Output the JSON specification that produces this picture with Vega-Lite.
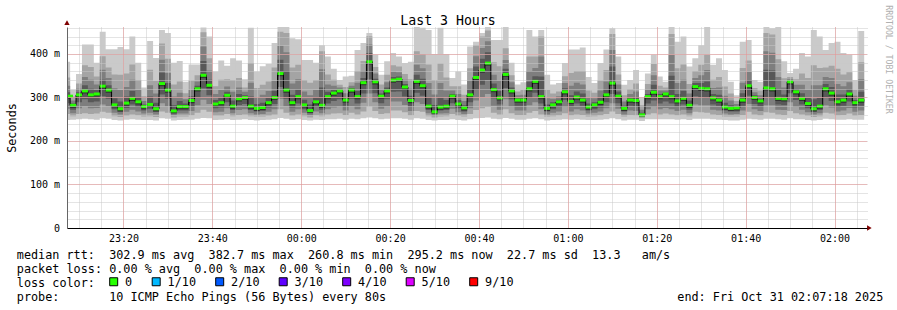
{
"$schema":"https://vega.github.io/schema/vega-lite/v6.json",
"width":800,"height":201,
"autosize":{"type":"none"},
"padding":{"left":67,"top":27,"right":30,"bottom":82},
"background":"#ffffff",
"config":{"view":{"stroke":null},"axis":{"labelFont":"DejaVu Sans Mono","titleFont":"DejaVu Sans Mono"},"legend":{"labelFont":"DejaVu Sans Mono"}},
"datasets":{
"arrows":[{"s":10832,"v":0,"shp":"triangle-right"},{"s":0,"v":472,"shp":"triangle-up"}],
"smoke":[
{"s":0,"m":303,"p1":248,"p2":262,"p3":274,"p4":287,"p5":297,"p6":305,"p7":312,"p8":327,"p9":346,"p10":382},
{"s":42,"m":282,"p1":249,"p2":257,"p3":264,"p4":272,"p5":276,"p6":284,"p7":286,"p8":293,"p9":302,"p10":318},
{"s":122,"m":306,"p1":250,"p2":262,"p3":275,"p4":289,"p5":300,"p6":308,"p7":312,"p8":320,"p9":332,"p10":354},
{"s":202,"m":315,"p1":251,"p2":264,"p3":279,"p4":296,"p5":309,"p6":317,"p7":328,"p8":347,"p9":374,"p10":422},
{"s":282,"m":306,"p1":250,"p2":262,"p3":275,"p4":289,"p5":300,"p6":308,"p7":320,"p8":341,"p9":370,"p10":422},
{"s":362,"m":308,"p1":249,"p2":263,"p3":276,"p4":291,"p5":302,"p6":310,"p7":317,"p8":330,"p9":348,"p10":380},
{"s":442,"m":326,"p1":252,"p2":267,"p3":284,"p4":303,"p5":320,"p6":328,"p7":341,"p8":364,"p9":395,"p10":451},
{"s":522,"m":317,"p1":251,"p2":265,"p3":280,"p4":297,"p5":311,"p6":319,"p7":328,"p8":345,"p9":369,"p10":411},
{"s":602,"m":283,"p1":248,"p2":257,"p3":265,"p4":273,"p5":277,"p6":285,"p7":298,"p8":321,"p9":353,"p10":411},
{"s":682,"m":274,"p1":247,"p2":255,"p3":261,"p4":267,"p5":268,"p6":276,"p7":291,"p8":317,"p9":352,"p10":416},
{"s":762,"m":287,"p1":249,"p2":258,"p3":267,"p4":276,"p5":281,"p6":289,"p7":302,"p8":324,"p9":355,"p10":411},
{"s":842,"m":298,"p1":250,"p2":261,"p3":272,"p4":284,"p5":292,"p6":300,"p7":315,"p8":341,"p9":376,"p10":440},
{"s":922,"m":290,"p1":249,"p2":259,"p3":268,"p4":278,"p5":284,"p6":292,"p7":301,"p8":317,"p9":340,"p10":380},
{"s":1002,"m":279,"p1":248,"p2":256,"p3":263,"p4":270,"p5":273,"p6":281,"p7":284,"p8":292,"p9":303,"p10":323},
{"s":1082,"m":284,"p1":248,"p2":257,"p3":265,"p4":274,"p5":278,"p6":286,"p7":302,"p8":328,"p9":364,"p10":430},
{"s":1162,"m":274,"p1":247,"p2":255,"p3":261,"p4":267,"p5":268,"p6":276,"p7":288,"p8":309,"p9":338,"p10":391},
{"s":1242,"m":332,"p1":252,"p2":268,"p3":287,"p4":307,"p5":326,"p6":334,"p7":357,"p8":387,"p9":424,"p10":455},
{"s":1322,"m":317,"p1":251,"p2":265,"p3":280,"p4":297,"p5":311,"p6":319,"p7":333,"p8":356,"p9":389,"p10":448},
{"s":1402,"m":269,"p1":247,"p2":254,"p3":259,"p4":263,"p5":264,"p6":271,"p7":282,"p8":302,"p9":330,"p10":380},
{"s":1482,"m":279,"p1":248,"p2":256,"p3":263,"p4":270,"p5":273,"p6":281,"p7":292,"p8":311,"p9":337,"p10":384},
{"s":1562,"m":279,"p1":249,"p2":256,"p3":263,"p4":270,"p5":273,"p6":281,"p7":286,"p8":296,"p9":310,"p10":336},
{"s":1642,"m":293,"p1":249,"p2":259,"p3":269,"p4":280,"p5":287,"p6":295,"p7":303,"p8":318,"p9":339,"p10":376},
{"s":1722,"m":320,"p1":251,"p2":265,"p3":282,"p4":299,"p5":314,"p6":322,"p7":327,"p8":337,"p9":351,"p10":376},
{"s":1802,"m":351,"p1":253,"p2":272,"p3":295,"p4":321,"p5":345,"p6":353,"p7":384,"p8":417,"p9":450,"p10":461},
{"s":1882,"m":328,"p1":252,"p2":267,"p3":285,"p4":305,"p5":322,"p6":330,"p7":341,"p8":362,"p9":390,"p10":440},
{"s":1962,"m":285,"p1":248,"p2":258,"p3":266,"p4":275,"p5":279,"p6":287,"p7":294,"p8":308,"p9":326,"p10":360},
{"s":2042,"m":288,"p1":249,"p2":258,"p3":267,"p4":277,"p5":282,"p6":290,"p7":300,"p8":317,"p9":341,"p10":385},
{"s":2122,"m":305,"p1":250,"p2":262,"p3":275,"p4":289,"p5":299,"p6":307,"p7":313,"p8":325,"p9":342,"p10":373},
{"s":2202,"m":280,"p1":248,"p2":257,"p3":264,"p4":271,"p5":274,"p6":282,"p7":293,"p8":313,"p9":340,"p10":390},
{"s":2282,"m":297,"p1":249,"p2":260,"p3":271,"p4":283,"p5":291,"p6":299,"p7":308,"p8":323,"p9":345,"p10":385},
{"s":2362,"m":300,"p1":250,"p2":261,"p3":273,"p4":285,"p5":294,"p6":302,"p7":305,"p8":313,"p9":323,"p10":342},
{"s":2442,"m":280,"p1":248,"p2":257,"p3":264,"p4":271,"p5":274,"p6":282,"p7":302,"p8":334,"p9":379,"p10":460},
{"s":2522,"m":275,"p1":247,"p2":256,"p3":261,"p4":268,"p5":269,"p6":277,"p7":285,"p8":301,"p9":322,"p10":360},
{"s":2602,"m":277,"p1":248,"p2":256,"p3":262,"p4":269,"p5":271,"p6":279,"p7":288,"p8":306,"p9":329,"p10":372},
{"s":2682,"m":288,"p1":249,"p2":258,"p3":267,"p4":277,"p5":282,"p6":290,"p7":299,"p8":315,"p9":337,"p10":377},
{"s":2762,"m":300,"p1":250,"p2":261,"p3":273,"p4":285,"p5":294,"p6":302,"p7":315,"p8":338,"p9":369,"p10":425},
{"s":2842,"m":355,"p1":253,"p2":273,"p3":297,"p4":324,"p5":349,"p6":357,"p7":387,"p8":419,"p9":451,"p10":462},
{"s":2922,"m":317,"p1":251,"p2":265,"p3":280,"p4":297,"p5":311,"p6":319,"p7":361,"p8":404,"p9":448,"p10":462},
{"s":3002,"m":288,"p1":249,"p2":258,"p3":267,"p4":277,"p5":282,"p6":290,"p7":306,"p8":332,"p9":369,"p10":436},
{"s":3082,"m":302,"p1":250,"p2":261,"p3":273,"p4":286,"p5":296,"p6":304,"p7":318,"p8":342,"p9":375,"p10":434},
{"s":3162,"m":283,"p1":248,"p2":257,"p3":265,"p4":273,"p5":277,"p6":285,"p7":295,"p8":314,"p9":340,"p10":386},
{"s":3242,"m":270,"p1":247,"p2":254,"p3":259,"p4":264,"p5":265,"p6":272,"p7":284,"p8":305,"p9":334,"p10":386},
{"s":3322,"m":290,"p1":249,"p2":259,"p3":268,"p4":278,"p5":284,"p6":292,"p7":301,"p8":317,"p9":340,"p10":380},
{"s":3402,"m":282,"p1":248,"p2":257,"p3":264,"p4":272,"p5":276,"p6":284,"p7":323,"p8":365,"p9":406,"p10":420},
{"s":3482,"m":302,"p1":250,"p2":261,"p3":273,"p4":286,"p5":296,"p6":304,"p7":313,"p8":330,"p9":353,"p10":394},
{"s":3562,"m":310,"p1":250,"p2":263,"p3":277,"p4":292,"p5":304,"p6":312,"p7":317,"p8":327,"p9":341,"p10":366},
{"s":3642,"m":315,"p1":251,"p2":264,"p3":279,"p4":296,"p5":309,"p6":317,"p7":318,"p8":323,"p9":329,"p10":340},
{"s":3722,"m":294,"p1":249,"p2":260,"p3":270,"p4":281,"p5":288,"p6":296,"p7":300,"p8":310,"p9":324,"p10":348},
{"s":3802,"m":317,"p1":251,"p2":265,"p3":280,"p4":297,"p5":311,"p6":319,"p7":321,"p8":327,"p9":335,"p10":350},
{"s":3882,"m":302,"p1":250,"p2":261,"p3":273,"p4":286,"p5":296,"p6":304,"p7":315,"p8":334,"p9":361,"p10":409},
{"s":3962,"m":334,"p1":252,"p2":268,"p3":288,"p4":309,"p5":328,"p6":336,"p7":345,"p8":361,"p9":384,"p10":425},
{"s":4042,"m":382,"p1":254,"p2":279,"p3":309,"p4":342,"p5":376,"p6":384,"p7":402,"p8":422,"p9":441,"p10":448},
{"s":4122,"m":336,"p1":252,"p2":269,"p3":289,"p4":310,"p5":330,"p6":338,"p7":343,"p8":355,"p9":370,"p10":398},
{"s":4202,"m":303,"p1":250,"p2":262,"p3":274,"p4":287,"p5":297,"p6":305,"p7":309,"p8":318,"p9":330,"p10":352},
{"s":4282,"m":315,"p1":251,"p2":264,"p3":279,"p4":296,"p5":309,"p6":317,"p7":323,"p8":335,"p9":352,"p10":383},
{"s":4362,"m":340,"p1":252,"p2":270,"p3":291,"p4":313,"p5":334,"p6":342,"p7":347,"p8":359,"p9":374,"p10":402},
{"s":4442,"m":342,"p1":252,"p2":270,"p3":291,"p4":314,"p5":336,"p6":344,"p7":348,"p8":358,"p9":371,"p10":394},
{"s":4522,"m":324,"p1":251,"p2":266,"p3":283,"p4":302,"p5":318,"p6":326,"p7":331,"p8":341,"p9":354,"p10":379},
{"s":4602,"m":293,"p1":249,"p2":259,"p3":269,"p4":280,"p5":287,"p6":295,"p7":304,"p8":320,"p9":342,"p10":382},
{"s":4682,"m":337,"p1":252,"p2":269,"p3":289,"p4":311,"p5":331,"p6":339,"p7":352,"p8":375,"p9":406,"p10":462},
{"s":4762,"m":327,"p1":251,"p2":267,"p3":285,"p4":304,"p5":321,"p6":329,"p7":343,"p8":367,"p9":400,"p10":460},
{"s":4842,"m":280,"p1":248,"p2":257,"p3":264,"p4":271,"p5":274,"p6":282,"p7":301,"p8":333,"p9":376,"p10":455},
{"s":4922,"m":267,"p1":247,"p2":254,"p3":258,"p4":262,"p5":263,"p6":269,"p7":283,"p8":307,"p9":340,"p10":400},
{"s":5002,"m":278,"p1":248,"p2":256,"p3":263,"p4":270,"p5":272,"p6":280,"p7":300,"p8":333,"p9":378,"p10":460},
{"s":5082,"m":280,"p1":248,"p2":257,"p3":264,"p4":271,"p5":274,"p6":282,"p7":294,"p8":316,"p9":346,"p10":400},
{"s":5162,"m":303,"p1":250,"p2":262,"p3":274,"p4":287,"p5":297,"p6":305,"p7":308,"p8":316,"p9":326,"p10":345},
{"s":5242,"m":285,"p1":248,"p2":258,"p3":266,"p4":275,"p5":279,"p6":287,"p7":294,"p8":308,"p9":326,"p10":360},
{"s":5322,"m":276,"p1":247,"p2":256,"p3":262,"p4":268,"p5":270,"p6":278,"p7":282,"p8":292,"p9":306,"p10":330},
{"s":5402,"m":306,"p1":250,"p2":262,"p3":275,"p4":289,"p5":300,"p6":308,"p7":319,"p8":339,"p9":367,"p10":417},
{"s":5482,"m":346,"p1":252,"p2":271,"p3":293,"p4":317,"p5":340,"p6":348,"p7":371,"p8":395,"p9":420,"p10":428},
{"s":5562,"m":363,"p1":253,"p2":275,"p3":301,"p4":329,"p5":357,"p6":365,"p7":389,"p8":414,"p9":440,"p10":448},
{"s":5642,"m":379,"p1":254,"p2":278,"p3":308,"p4":340,"p5":373,"p6":381,"p7":404,"p8":429,"p9":454,"p10":462},
{"s":5722,"m":318,"p1":251,"p2":265,"p3":281,"p4":298,"p5":312,"p6":320,"p7":332,"p8":352,"p9":381,"p10":432},
{"s":5802,"m":299,"p1":250,"p2":261,"p3":272,"p4":284,"p5":293,"p6":301,"p7":315,"p8":339,"p9":372,"p10":432},
{"s":5882,"m":353,"p1":253,"p2":273,"p3":296,"p4":322,"p5":347,"p6":355,"p7":366,"p8":386,"p9":413,"p10":462},
{"s":5962,"m":315,"p1":251,"p2":264,"p3":279,"p4":296,"p5":309,"p6":317,"p7":323,"p8":335,"p9":351,"p10":380},
{"s":6042,"m":294,"p1":249,"p2":260,"p3":270,"p4":281,"p5":288,"p6":296,"p7":298,"p8":305,"p9":314,"p10":330},
{"s":6122,"m":294,"p1":249,"p2":260,"p3":270,"p4":281,"p5":288,"p6":296,"p7":299,"p8":306,"p9":317,"p10":335},
{"s":6202,"m":320,"p1":251,"p2":265,"p3":282,"p4":299,"p5":314,"p6":322,"p7":336,"p8":361,"p9":394,"p10":455},
{"s":6282,"m":337,"p1":252,"p2":269,"p3":289,"p4":311,"p5":331,"p6":339,"p7":349,"p8":368,"p9":394,"p10":440},
{"s":6362,"m":302,"p1":250,"p2":261,"p3":273,"p4":286,"p5":296,"p6":304,"p7":348,"p8":394,"p9":440,"p10":455},
{"s":6442,"m":275,"p1":247,"p2":256,"p3":261,"p4":268,"p5":269,"p6":277,"p7":284,"p8":298,"p9":317,"p10":352},
{"s":6522,"m":283,"p1":248,"p2":257,"p3":265,"p4":273,"p5":277,"p6":285,"p7":289,"p8":297,"p9":309,"p10":330},
{"s":6602,"m":290,"p1":249,"p2":259,"p3":268,"p4":278,"p5":284,"p6":292,"p7":295,"p8":303,"p9":314,"p10":333},
{"s":6682,"m":313,"p1":250,"p2":264,"p3":278,"p4":294,"p5":307,"p6":315,"p7":321,"p8":333,"p9":349,"p10":379},
{"s":6762,"m":291,"p1":249,"p2":259,"p3":268,"p4":279,"p5":285,"p6":293,"p7":305,"p8":327,"p9":356,"p10":410},
{"s":6842,"m":301,"p1":250,"p2":261,"p3":273,"p4":286,"p5":295,"p6":303,"p7":314,"p8":334,"p9":361,"p10":410},
{"s":6922,"m":294,"p1":249,"p2":260,"p3":270,"p4":281,"p5":288,"p6":296,"p7":309,"p8":330,"p9":361,"p10":415},
{"s":7002,"m":278,"p1":248,"p2":256,"p3":263,"p4":270,"p5":272,"p6":280,"p7":286,"p8":299,"p9":316,"p10":347},
{"s":7082,"m":283,"p1":248,"p2":257,"p3":265,"p4":273,"p5":277,"p6":285,"p7":289,"p8":298,"p9":311,"p10":333},
{"s":7162,"m":289,"p1":249,"p2":259,"p3":268,"p4":277,"p5":283,"p6":291,"p7":300,"p8":316,"p9":339,"p10":379},
{"s":7242,"m":306,"p1":250,"p2":262,"p3":275,"p4":289,"p5":300,"p6":308,"p7":318,"p8":337,"p9":363,"p10":410},
{"s":7322,"m":333,"p1":252,"p2":268,"p3":287,"p4":308,"p5":327,"p6":335,"p7":371,"p8":409,"p9":446,"p10":459},
{"s":7402,"m":303,"p1":250,"p2":262,"p3":274,"p4":287,"p5":297,"p6":305,"p7":314,"p8":330,"p9":353,"p10":394},
{"s":7482,"m":275,"p1":247,"p2":256,"p3":261,"p4":268,"p5":269,"p6":277,"p7":281,"p8":291,"p9":305,"p10":329},
{"s":7562,"m":294,"p1":249,"p2":260,"p3":270,"p4":281,"p5":288,"p6":296,"p7":300,"p8":308,"p9":319,"p10":340},
{"s":7642,"m":293,"p1":249,"p2":259,"p3":269,"p4":280,"p5":287,"p6":295,"p7":301,"p8":314,"p9":332,"p10":363},
{"s":7722,"m":260,"p1":246,"p2":252,"p3":255,"p4":257,"p5":258,"p6":262,"p7":265,"p8":272,"p9":282,"p10":300},
{"s":7802,"m":302,"p1":250,"p2":261,"p3":273,"p4":286,"p5":296,"p6":304,"p7":308,"p8":318,"p9":331,"p10":355},
{"s":7882,"m":312,"p1":250,"p2":264,"p3":278,"p4":293,"p5":306,"p6":314,"p7":329,"p8":351,"p9":377,"p10":398},
{"s":7962,"m":302,"p1":250,"p2":261,"p3":273,"p4":286,"p5":296,"p6":304,"p7":308,"p8":316,"p9":327,"p10":348},
{"s":8042,"m":308,"p1":250,"p2":263,"p3":276,"p4":291,"p5":302,"p6":310,"p7":311,"p8":316,"p9":323,"p10":336},
{"s":8122,"m":302,"p1":250,"p2":261,"p3":273,"p4":286,"p5":296,"p6":304,"p7":350,"p8":398,"p9":446,"p10":462},
{"s":8202,"m":292,"p1":249,"p2":259,"p3":269,"p4":279,"p5":286,"p6":294,"p7":308,"p8":333,"p9":367,"p10":428},
{"s":8282,"m":298,"p1":250,"p2":261,"p3":272,"p4":284,"p5":292,"p6":300,"p7":315,"p8":341,"p9":376,"p10":440},
{"s":8362,"m":282,"p1":248,"p2":257,"p3":264,"p4":272,"p5":276,"p6":284,"p7":293,"p8":309,"p9":331,"p10":371},
{"s":8442,"m":325,"p1":251,"p2":267,"p3":284,"p4":303,"p5":319,"p6":327,"p7":333,"p8":345,"p9":361,"p10":390},
{"s":8522,"m":321,"p1":251,"p2":266,"p3":282,"p4":300,"p5":315,"p6":323,"p7":333,"p8":351,"p9":375,"p10":420},
{"s":8602,"m":320,"p1":251,"p2":265,"p3":282,"p4":299,"p5":314,"p6":322,"p7":337,"p8":363,"p9":398,"p10":462},
{"s":8682,"m":299,"p1":250,"p2":261,"p3":272,"p4":284,"p5":293,"p6":301,"p7":308,"p8":322,"p9":341,"p10":375},
{"s":8762,"m":294,"p1":249,"p2":260,"p3":270,"p4":281,"p5":288,"p6":296,"p7":306,"p8":323,"p9":347,"p10":390},
{"s":8842,"m":278,"p1":248,"p2":256,"p3":263,"p4":270,"p5":272,"p6":280,"p7":288,"p8":304,"p9":325,"p10":363},
{"s":8922,"m":275,"p1":247,"p2":256,"p3":261,"p4":268,"p5":269,"p6":277,"p7":282,"p8":293,"p9":309,"p10":336},
{"s":9002,"m":276,"p1":247,"p2":256,"p3":262,"p4":268,"p5":270,"p6":278,"p7":279,"p8":285,"p9":292,"p10":305},
{"s":9082,"m":294,"p1":249,"p2":260,"p3":270,"p4":281,"p5":288,"p6":296,"p7":310,"p8":334,"p9":368,"p10":428},
{"s":9162,"m":327,"p1":251,"p2":267,"p3":285,"p4":304,"p5":321,"p6":329,"p7":340,"p8":359,"p9":385,"p10":432},
{"s":9242,"m":300,"p1":250,"p2":261,"p3":273,"p4":285,"p5":294,"p6":302,"p7":305,"p8":312,"p9":322,"p10":340},
{"s":9322,"m":292,"p1":249,"p2":259,"p3":269,"p4":279,"p5":286,"p6":294,"p7":297,"p8":305,"p9":316,"p10":336},
{"s":9402,"m":322,"p1":251,"p2":266,"p3":282,"p4":300,"p5":316,"p6":324,"p7":364,"p8":406,"p9":448,"p10":462},
{"s":9482,"m":320,"p1":251,"p2":265,"p3":282,"p4":299,"p5":314,"p6":322,"p7":362,"p8":403,"p9":445,"p10":459},
{"s":9562,"m":298,"p1":250,"p2":261,"p3":272,"p4":284,"p5":292,"p6":300,"p7":318,"p8":347,"p9":388,"p10":462},
{"s":9642,"m":297,"p1":249,"p2":260,"p3":271,"p4":283,"p5":291,"p6":299,"p7":307,"p8":323,"p9":344,"p10":383},
{"s":9722,"m":336,"p1":252,"p2":269,"p3":289,"p4":310,"p5":330,"p6":338,"p7":338,"p8":342,"p9":347,"p10":356},
{"s":9802,"m":313,"p1":250,"p2":264,"p3":278,"p4":294,"p5":307,"p6":315,"p7":319,"p8":329,"p9":342,"p10":366},
{"s":9882,"m":298,"p1":250,"p2":261,"p3":272,"p4":284,"p5":292,"p6":300,"p7":310,"p8":329,"p9":355,"p10":402},
{"s":9962,"m":286,"p1":248,"p2":258,"p3":266,"p4":275,"p5":280,"p6":288,"p7":299,"p8":318,"p9":345,"p10":394},
{"s":10042,"m":274,"p1":247,"p2":255,"p3":261,"p4":267,"p5":268,"p6":276,"p7":296,"p8":328,"p9":374,"p10":455},
{"s":10122,"m":280,"p1":248,"p2":257,"p3":264,"p4":271,"p5":274,"p6":282,"p7":299,"p8":328,"p9":368,"p10":440},
{"s":10202,"m":320,"p1":251,"p2":265,"p3":282,"p4":299,"p5":314,"p6":322,"p7":331,"p8":347,"p9":369,"p10":409},
{"s":10282,"m":310,"p1":250,"p2":263,"p3":277,"p4":292,"p5":304,"p6":312,"p7":324,"p8":345,"p9":373,"p10":425},
{"s":10362,"m":290,"p1":249,"p2":259,"p3":268,"p4":278,"p5":284,"p6":292,"p7":307,"p8":331,"p9":366,"p10":428},
{"s":10442,"m":294,"p1":249,"p2":260,"p3":270,"p4":281,"p5":288,"p6":296,"p7":307,"p8":326,"p9":353,"p10":402},
{"s":10522,"m":308,"p1":250,"p2":263,"p3":276,"p4":291,"p5":302,"p6":310,"p7":319,"p8":335,"p9":358,"p10":398},
{"s":10602,"m":288,"p1":249,"p2":258,"p3":267,"p4":277,"p5":282,"p6":290,"p7":294,"p8":304,"p9":317,"p10":340},
{"s":10682,"m":294,"p1":249,"p2":260,"p3":270,"p4":281,"p5":288,"p6":296,"p7":313,"p8":342,"p9":381,"p10":453},
{"s":10762,"m":294,"p1":249,"p2":260,"p3":270,"p4":281,"p5":288,"p6":296,"p7":313,"p8":342,"p9":381,"p10":453,"e":1}
]},
"data":{"name":"smoke"},
"layer":[
{"mark":{"type":"area","interpolate":"step-after","color":"#cacaca","opacity":1},
 "encoding":{
  "x":{"field":"s","type":"quantitative","scale":{"domain":[0,10800],"nice":false,"zero":false},
   "axis":{"orient":"top","values":[162,462,762,1062,1362,1662,1962,2262,2562,2862,3162,3462,3762,4062,4362,4662,4962,5262,5562,5862,6162,6462,6762,7062,7362,7662,7962,8262,8562,8862,9162,9462,9762,10062,10362,10662],"grid":true,"gridColor":"#c8c8c8","gridDash":[1,1],"gridWidth":1,"labels":false,"ticks":false,"domain":false,"zindex":1,
    "title":"Last 3 Hours","titleX":380.5,"titleY":-2.7,"titleAlign":"center","titleBaseline":"alphabetic","titleFontSize":13.2,"titleFontWeight":"normal","titleColor":"#000000"}},
  "y":{"field":"p1","type":"quantitative","scale":{"domain":[0,462],"nice":false,"zero":false},
   "axis":{"orient":"right","values":[20,40,60,80,100,120,140,160,180,200,220,240,260,280,300,320,340,360,380,400,420,440,460],"grid":true,"gridColor":"#c8c8c8","gridDash":[1,1],"gridWidth":1,"labels":false,"ticks":false,"domain":false,"zindex":1,
    "title":"RRDTOOL / TOBI OETIKER","titleAngle":90,"titleX":20,"titleY":32,"titleAlign":"center","titleBaseline":"middle","titleFontSize":8.2,"titleFontWeight":"normal","titleColor":"#b0b0b0"}},
  "y2":{"field":"p10"}}},
{"mark":{"type":"area","interpolate":"step-after","color":"#a4a4a4","opacity":1},
 "encoding":{"x":{"field":"s","type":"quantitative","axis":null},"y":{"field":"p2","type":"quantitative","axis":null},"y2":{"field":"p9"}}},
{"mark":{"type":"area","interpolate":"step-after","color":"#7e7e7e","opacity":1},
 "encoding":{"x":{"field":"s","type":"quantitative","axis":null},"y":{"field":"p3","type":"quantitative","axis":null},"y2":{"field":"p8"}}},
{"mark":{"type":"area","interpolate":"step-after","color":"#585858","opacity":1},
 "encoding":{"x":{"field":"s","type":"quantitative","axis":null},"y":{"field":"p4","type":"quantitative","axis":null},"y2":{"field":"p7"}}},
{"mark":{"type":"area","interpolate":"step-after","color":"#323232","opacity":1},
 "encoding":{"x":{"field":"s","type":"quantitative","axis":null},"y":{"field":"p5","type":"quantitative","axis":null},"y2":{"field":"p6"}}},
{"mark":{"type":"line","interpolate":"step-after","color":"#000000","strokeWidth":1},
 "encoding":{
  "x":{"field":"s","type":"quantitative",
   "axis":{"orient":"bottom","values":[762,1962,3162,4362,5562,6762,7962,9162,10362],"grid":true,"gridColor":"#e89090","gridDash":[1,1],"gridWidth":1,"domain":true,"domainColor":"#000000","domainWidth":1,"ticks":false,"tickSize":0,"labelPadding":13.5,"labelBaseline":"alphabetic","labelAlign":"center","labelFontSize":10,"labelColor":"#000000","labelFlush":false,"labelOverlap":false,"zindex":2,
    "labelExpr":"datum.value == 762 ? '23:20' : datum.value == 1962 ? '23:40' : datum.value == 3162 ? '00:00' : datum.value == 4362 ? '00:20' : datum.value == 5562 ? '00:40' : datum.value == 6762 ? '01:00' : datum.value == 7962 ? '01:20' : datum.value == 9162 ? '01:40' : '02:00'",
    "title":["median rtt:\u00a0\u00a0302.9 ms avg\u00a0\u00a0382.7 ms max\u00a0\u00a0260.8 ms min\u00a0\u00a0295.2 ms now\u00a0\u00a022.7 ms sd\u00a0\u00a013.3\u00a0\u00a0\u00a0am/s","packet loss: 0.00 % avg\u00a0\u00a00.00 % max\u00a0\u00a00.00 % min\u00a0\u00a00.00 % now","loss color:","probe:\u00a0\u00a0\u00a0\u00a0\u00a0\u00a0\u00a010 ICMP Echo Pings (56 Bytes) every 80s\u00a0\u00a0\u00a0\u00a0\u00a0\u00a0\u00a0\u00a0\u00a0\u00a0\u00a0\u00a0\u00a0\u00a0\u00a0\u00a0\u00a0\u00a0\u00a0\u00a0\u00a0\u00a0\u00a0\u00a0\u00a0\u00a0\u00a0\u00a0\u00a0\u00a0\u00a0\u00a0\u00a0\u00a0\u00a0\u00a0\u00a0\u00a0\u00a0\u00a0\u00a0end: Fri Oct 31 02:07:18 2025"],
    "titleX":-50.7,"titleY":30.7,"titleAlign":"left","titleBaseline":"alphabetic","titleLineHeight":13.9,"titleFontSize":11.8,"titleFontWeight":"normal","titleColor":"#000000"}},
  "y":{"field":"m","type":"quantitative",
   "axis":{"orient":"left","values":[0,100,200,300,400],"grid":true,"gridColor":"#e89090","gridDash":[1,1],"gridWidth":1,"domain":true,"domainColor":"#666666","ticks":false,"tickSize":0,"labelPadding":7.5,"labelFontSize":10,"labelColor":"#000000","labelAlign":"right","labelBaseline":"middle",
    "labelExpr":"datum.value == 0 ? '0\u00a0\u00a0' : datum.value + ' m'","zindex":2,
    "title":"Seconds","titleAngle":270,"titleX":-52,"titleY":100.5,"titleAlign":"center","titleBaseline":"alphabetic","titleFontSize":11.8,"titleFontWeight":"normal","titleColor":"#000000"}}}},
{"transform":[{"filter":"!datum.e"}],
 "mark":{"type":"tick","orient":"horizontal","size":6,"thickness":3,"xOffset":3,"opacity":1},
 "encoding":{"x":{"field":"s","type":"quantitative","axis":null},"y":{"field":"m","type":"quantitative","axis":null},
  "color":{"datum":"0","type":"nominal",
   "scale":{"domain":["0","1/10","2/10","3/10","4/10","5/10","9/10"],"range":["#26ff00","#00b8ff","#0059ff","#5e00ff","#7e00ff","#dd00ff","#ff0000"]},
   "legend":{"orient":"none","legendX":40.8,"legendY":248.7,"direction":"horizontal","title":null,"symbolType":"square","symbolSize":64,"symbolStrokeColor":"#000000","symbolStrokeWidth":1,"symbolOpacity":1,"labelFontSize":11.8,"labelColor":"#000000","labelOffset":5.5,"columnPadding":16.5,"padding":0}}}},
{"data":{"name":"arrows"},
 "mark":{"type":"point","filled":true,"opacity":1,"size":28,"color":"#7f0000"},
 "encoding":{"x":{"field":"s","type":"quantitative","axis":null},"y":{"field":"v","type":"quantitative","axis":null},"shape":{"field":"shp","type":"nominal","scale":null,"legend":null}}}
],
"resolve":{"axis":{"x":"independent","y":"independent"}}
}
